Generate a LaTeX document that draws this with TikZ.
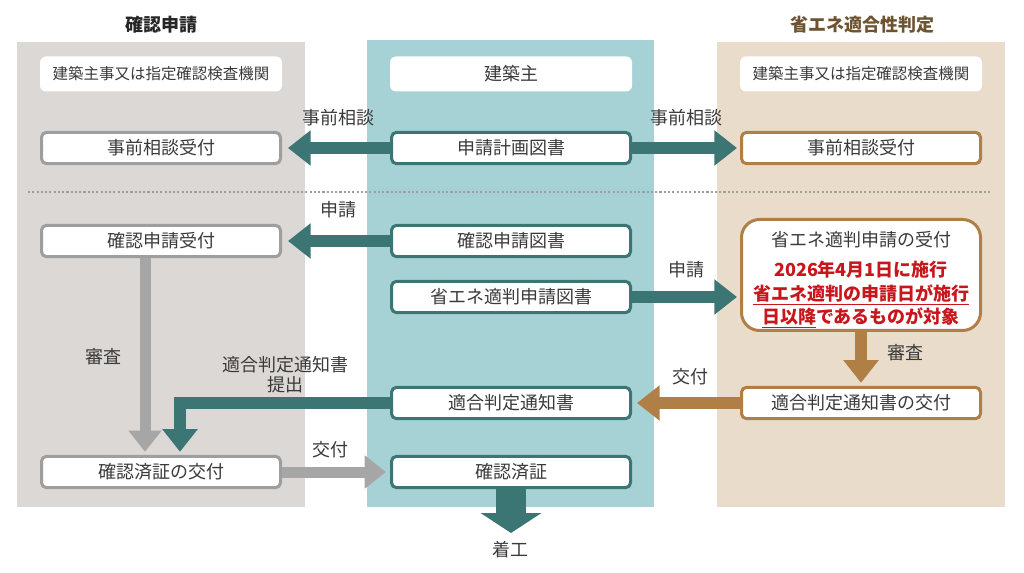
\documentclass[tikz,border=0pt]{standalone}
\usepackage{fontspec}
\setmainfont{Noto Sans CJK JP}
\usetikzlibrary{arrows.meta,calc}
\definecolor{pgray}{HTML}{DCD8D5}
\definecolor{pteal}{HTML}{A7D2D5}
\definecolor{pbeige}{HTML}{EADCCB}
\definecolor{cteal}{HTML}{3B7674}
\definecolor{cgray}{HTML}{9E9E9E}
\definecolor{agray}{HTML}{A6A6A6}
\definecolor{cbrown}{HTML}{B07F45}
\definecolor{tbrown}{HTML}{6E5331}
\definecolor{txt}{HTML}{3A3A3A}
\definecolor{cred}{HTML}{C8161D}
\newcommand{\fmain}{\fontsize{13.5pt}{16pt}\selectfont}
\newcommand{\fhead}{\fontsize{11.6pt}{14pt}\selectfont}
\begin{document}
\begin{tikzpicture}[x=0.75pt,y=-0.75pt,
  box/.style={draw, fill=white, rounded corners=3.75pt, line width=2.25pt,
    minimum width=179.25pt, minimum height=23.5pt, inner sep=0pt, font=\fmain, text=txt},
  graybox/.style={box, draw=cgray},
  tealbox/.style={box, draw=cteal},
  brownbox/.style={box, draw=cbrown},
  headbox/.style={fill=white, rounded corners=4.5pt, minimum width=181.5pt,
    minimum height=26.25pt, inner sep=0pt, font=\fhead, text=txt},
  lbl/.style={font=\fmain, text=txt, inner sep=0pt},
  ttl/.style={font=\fmain\bfseries, inner sep=0pt},
  redline/.style={font=\fmain\bfseries, text=cred, inner sep=0pt},
  fatarrow/.style={line width=9pt, -{Triangle[length=17pt,width=25.5pt]}},
  thinarrow/.style={line width=8.25pt, -{Triangle[length=16pt,width=24pt]}}
]
\useasboundingbox (0,0) rectangle (1024,573);
% panels
\fill[pgray] (17,42) rectangle (305,507);
\fill[pteal] (367,40) rectangle (654,507);
\fill[pbeige] (717,42) rectangle (1005,507);
% titles
\node[ttl, text=black!85] (t1) at (161,25) {確認申請};
\node[ttl, text=tbrown] (t2) at (862,25) {省エネ適合性判定};
% headers
\node[headbox] (h1) at (161,74) {建築主事又は指定確認検査機関};
\node[headbox, font=\fmain] (h2) at (511,74) {建築主};
\node[headbox] (h3) at (861,74) {建築主事又は指定確認検査機関};
% row 1
\node[graybox] (l1) at (161,148) {事前相談受付};
\node[tealbox] (m1) at (511,148) {申請計画図書};
\node[brownbox] (r1) at (861,148) {事前相談受付};
% separator
\draw[cgray, line width=1.9pt, dash pattern=on 1.6pt off 1.6pt] (28,192) -- (990,192);
% row 2
\node[graybox] (l2) at (161,241) {確認申請受付};
\node[tealbox] (m2) at (511,241) {確認申請図書};
\node[tealbox] (m3) at (511,297) {省エネ適判申請図書};
\node[brownbox, minimum height=83.25pt, rounded corners=13.5pt] (r3) at (861,275) {};
\node[lbl] (r3a) at (861,240) {省エネ適判申請の受付};
\node[redline] (r3b) at (861,270) {2026年4月1日に施行};
\node[redline] (r3c) at (861,295) {\underline{省エネ適判の申請日が施行}};
\node[redline] (r3d) at (861,318) {\underline{日以降}であるものが対象};
% row 3
\node[tealbox] (m5) at (511,403) {適合判定通知書};
\node[brownbox] (r5) at (861,403) {適合判定通知書の交付};
% row 4
\node[graybox] (l6) at (161,472) {確認済証の交付};
\node[tealbox] (m6) at (511,472) {確認済証};
\node[lbl] (kou) at (510,550) {着工};
\coordinate (kt) at (511,533);
% arrows
\draw[fatarrow, cteal] (m1.west) -- ($(l1.east)+(6,0)$);
\draw[fatarrow, cteal] (m1.east) -- ($(r1.west)+(-3,0)$);
\draw[fatarrow, cteal] (m2.west) -- ($(l2.east)+(6,0)$);
\draw[fatarrow, cteal] (m3.east) -- ($(r3.west)+(-3,22)$);
\draw[fatarrow, cbrown] (r3.south) -- ($(r5.north)+(0,-3)$);
\draw[fatarrow, cbrown] (r5.west) -- ($(m5.east)+(5,0)$);
\draw[thinarrow, agray] ($(l2.south)+(-16,0)$) -- ($(l6.north)+(-16,-3)$);
\draw[fatarrow, cteal] (m5.west) -| ($(l6.north)+(19,-3)$);
\draw[thinarrow, agray] (l6.east) -- ($(m6.west)+(-4,0)$);
\draw[cteal, line width=22.5pt, -{Triangle[length=15pt,width=45pt]}] (m6.south) -- (kt);
% labels
\node[lbl] (a1) at (338,118) {事前相談};
\node[lbl] (a2) at (686,118) {事前相談};
\node[lbl] (a3) at (338,210) {申請};
\node[lbl] (a4) at (686,270) {申請};
\node[lbl] (a5) at (905,353) {審査};
\node[lbl] (a6) at (690,377) {交付};
\node[lbl] (a7) at (103,357) {審査};
\node[lbl, align=center] (a8) at (285,375) {適合判定通知書\\[-1pt]提出};
\node[lbl] (a9) at (330,450) {交付};
\end{tikzpicture}
\end{document}
